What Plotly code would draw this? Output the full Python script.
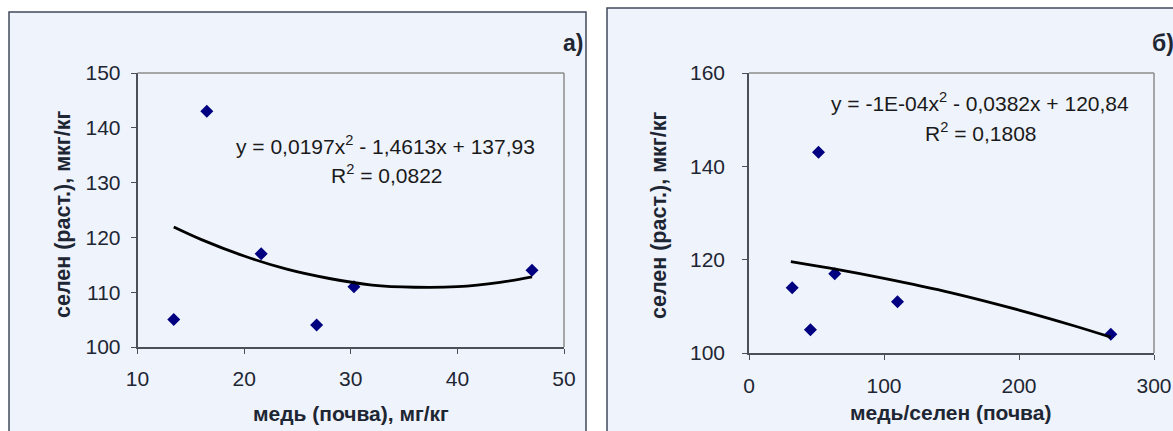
import plotly.graph_objects as go

W, H = 1173, 431

# ---- data: panel a) ----
a_x = [13.4, 16.5, 21.6, 26.8, 30.3, 47.0]
a_y = [105, 143, 117, 104, 111, 114]
a_trend_x = [13.4, 16, 20, 24, 28, 32, 36, 40, 44, 47]
a_trend_y = [121.9, 119.6, 116.6, 114.2, 112.5, 111.3, 110.9, 111.0, 111.8, 112.8]
a_xticks = [10, 20, 30, 40, 50]
a_yticks = [100, 110, 120, 130, 140, 150]

# ---- data: panel б) ----
b_x = [32, 45.5, 51.5, 63.5, 110, 268]
b_y = [114, 105, 143, 117, 111, 104]
b_trend_x = [31, 60, 100, 150, 200, 240, 268]
b_trend_y = [119.6, 118.2, 116.0, 112.9, 109.2, 105.9, 103.4]
b_xticks = [0, 100, 200, 300]
b_yticks = [100, 120, 140, 160]

FONT = "Liberation Sans, Arial, sans-serif"
TXT = "#1e2633"
PANEL_BG = "#eff3fb"
PANEL_LINE = "#404a5c"
MARK = "#000080"

def px(x):
    return x / W

def py(y):
    return 1 - y / H

fig = go.Figure()

fig.add_trace(go.Scatter(x=a_x, y=a_y, mode="markers", xaxis="x", yaxis="y",
                         marker=dict(symbol="diamond", size=10, color=MARK),
                         showlegend=False, hoverinfo="skip"))
fig.add_trace(go.Scatter(x=a_trend_x, y=a_trend_y, mode="lines", xaxis="x", yaxis="y",
                         line=dict(color="black", width=2.8, shape="spline"),
                         showlegend=False, hoverinfo="skip"))
fig.add_trace(go.Scatter(x=b_x, y=b_y, mode="markers", xaxis="x2", yaxis="y2",
                         marker=dict(symbol="diamond", size=10, color=MARK),
                         showlegend=False, hoverinfo="skip"))
fig.add_trace(go.Scatter(x=b_trend_x, y=b_trend_y, mode="lines", xaxis="x2", yaxis="y2",
                         line=dict(color="black", width=2.8, shape="spline"),
                         showlegend=False, hoverinfo="skip"))

axis_common = dict(showgrid=False, zeroline=False, showline=True, linecolor="#4a4f5a",
                   linewidth=1.5, ticks="outside", ticklen=5, tickcolor="#4a4f5a",
                   tickwidth=1.2, automargin=False,
                   tickfont=dict(family=FONT, size=21, color=TXT))

fig.update_layout(
    width=W, height=H,
    margin=dict(l=0, r=0, t=0, b=0, pad=0, autoexpand=False),
    paper_bgcolor="white",
    plot_bgcolor="white",
    xaxis=dict(domain=[px(137.5), px(564)], range=[10, 50], tickvals=a_xticks,
               anchor="y", ticklabelstandoff=7, **axis_common),
    yaxis=dict(domain=[py(347), py(73)], range=[100, 150], tickvals=a_yticks,
               anchor="x", ticklabelstandoff=6, **axis_common),
    xaxis2=dict(domain=[px(749), px(1154)], range=[0, 300], tickvals=b_xticks,
                anchor="y2", ticklabelstandoff=8, **axis_common),
    yaxis2=dict(domain=[py(353), py(73)], range=[100, 160], tickvals=b_yticks,
                anchor="x2", ticklabelstandoff=13, **axis_common),
)

shapes = [
    # panel backgrounds and borders
    dict(type="rect", xref="paper", yref="paper", x0=px(9), x1=px(586), y0=-0.1, y1=py(12),
         fillcolor=PANEL_BG, line=dict(color=PANEL_LINE, width=1.5), layer="below"),
    dict(type="rect", xref="paper", yref="paper", x0=px(607), x1=px(1190), y0=-0.1, y1=py(8),
         fillcolor=PANEL_BG, line=dict(color=PANEL_LINE, width=1.5), layer="below"),
]
# top / right frame lines of plot areas (lighter gray)
for xr, yr in (("x", "y"), ("x2", "y2")):
    shapes.append(dict(type="line", xref=f"{xr} domain", yref=f"{yr} domain",
                       x0=0, x1=1, y0=1, y1=1, line=dict(color="#8c8c8c", width=1.5)))
    shapes.append(dict(type="line", xref=f"{xr} domain", yref=f"{yr} domain",
                       x0=1, x1=1, y0=0, y1=1, line=dict(color="#8c8c8c", width=1.5)))
fig.update_layout(shapes=shapes)

ann = []
def add_text(text, x, y, size, bold=False, angle=0, xanchor="center", color=TXT):
    ann.append(dict(text=f"<b>{text}</b>" if bold else text, x=px(x), y=py(y),
                    xref="paper", yref="paper", showarrow=False, textangle=angle,
                    xanchor=xanchor, yanchor="middle",
                    font=dict(family=FONT, size=size, color=color)))

# equations
add_text("y = 0,0197x<sup>2</sup> - 1,4613x + 137,93", 385, 145, 21, color="#1a1a1a")
add_text("R<sup>2</sup> = 0,0822", 387, 174, 21, color="#1a1a1a")
add_text("y = -1E-04x<sup>2</sup> - 0,0382x + 120,84", 980, 102, 21, color="#1a1a1a")
add_text("R<sup>2</sup> = 0,1808", 981, 132, 21, color="#1a1a1a")
# axis titles
add_text("медь (почва), мг/кг", 351, 413, 21, bold=True)
add_text("селен (раст.), мкг/кг", 63, 215, 21.5, bold=True, angle=-90)
add_text("медь/селен (почва)", 950, 412, 21, bold=True)
add_text("селен (раст.), мкг/кг", 659, 216, 21.5, bold=True, angle=-90)
# panel labels
add_text("а)", 573, 43, 23, bold=True)
add_text("б)", 1150, 43, 23, bold=True, xanchor="left")
fig.update_layout(annotations=ann)

fig.write_html("out.html", config={"displayModeBar": False},
               post_script="document.body.style.margin='0';document.body.style.overflow='hidden';")
